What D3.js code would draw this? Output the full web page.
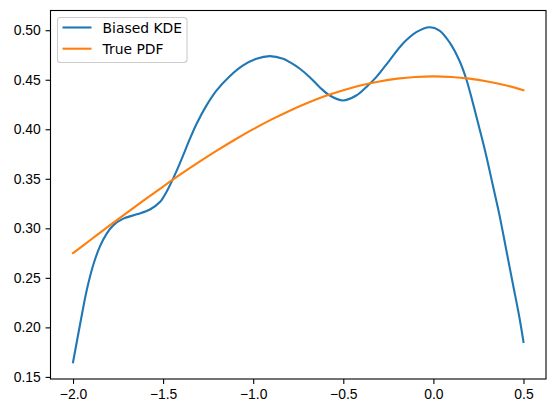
<!DOCTYPE html>
<html>
  <head>
    <meta charset="utf-8">
    <title>Biased KDE vs true PDF</title>
    <script src="https://d3js.org/d3.v7.min.js"></script>
    <style>
      body { margin: 0; background: #fff; }
      #chart { font-family: "DejaVu Sans", sans-serif; }
      .tick text { font-size: 13.9px; fill: #000; }
      .tick line { stroke: #000; stroke-width: 1.1; }
      .plot { fill: none; stroke-width: 2.1; stroke-linecap: square; }
    </style>
  </head>
  <body>
    <svg id="chart" width="556" height="413"></svg>
    <script>
      // data
      var kdeX = [-2.0, -1.96, -1.924, -1.887, -1.85, -1.813, -1.777, -1.721, -1.647, -1.573,
                  -1.518, -1.472, -1.425, -1.389, -1.351, -1.314, -1.259, -1.203, -1.13, -1.056,
                  -0.982, -0.908, -0.834, -0.797, -0.741, -0.686, -0.631, -0.575, -0.502, -0.428,
                  -0.373, -0.317, -0.244, -0.17, -0.095, -0.021, 0.034, 0.089, 0.144, 0.182,
                  0.218, 0.256, 0.293, 0.33, 0.367, 0.404, 0.441, 0.478, 0.5];
      var kdeY = [0.1648, 0.2039, 0.2375, 0.2635, 0.282, 0.2947, 0.303, 0.3098, 0.3141, 0.319,
                  0.3265, 0.340, 0.358, 0.3736, 0.3905, 0.4056, 0.4241, 0.4392, 0.4535, 0.4644,
                  0.4712, 0.4738, 0.4712, 0.4677, 0.4611, 0.4526, 0.4425, 0.4341, 0.4291, 0.4341,
                  0.4425, 0.4526, 0.4694, 0.4863, 0.498, 0.503, 0.4997, 0.4879, 0.4694, 0.451,
                  0.4274, 0.4006, 0.3736, 0.3434, 0.3131, 0.2787, 0.244, 0.2095, 0.1853];
      var pdfX = [-2.0, -1.9, -1.8, -1.7, -1.6, -1.5, -1.4, -1.3, -1.2, -1.1, -1.0, -0.9, -0.8,
                  -0.7, -0.6, -0.5, -0.4, -0.3, -0.2, -0.1, 0.0, 0.1, 0.2, 0.3, 0.4, 0.5];
      var pdfY = [0.275, 0.2887, 0.3024, 0.3159, 0.3292, 0.3422, 0.3549, 0.3671, 0.3787, 0.3897,
                  0.4001, 0.4097, 0.4185, 0.4265, 0.4335, 0.4394, 0.4444, 0.4483, 0.4511, 0.4528,
                  0.4534, 0.4528, 0.4511, 0.4483, 0.4444, 0.4394];
      var xTicks = [-2.0, -1.5, -1.0, -0.5, 0.0, 0.5];
      var yTicks = [0.15, 0.20, 0.25, 0.30, 0.35, 0.40, 0.45, 0.50];
      var seriesNames = ["Biased KDE", "True PDF"];
      var seriesColors = ["#1f77b4", "#ff7f0e"];

      var chart = d3.select("#chart");
      var box = { left: 50.5, right: 546, top: 10.5, bottom: 379 };

      // matplotlib style 5% margins
      var xExt = d3.extent(kdeX.concat(pdfX));
      var yExt = d3.extent(kdeY.concat(pdfY));
      var xPad = (xExt[1] - xExt[0]) * 0.05;
      var yPad = (yExt[1] - yExt[0]) * 0.05;
      var x = d3.scaleLinear()
        .domain([xExt[0] - xPad, xExt[1] + xPad])
        .range([box.left, box.right]);
      var y = d3.scaleLinear()
        .domain([yExt[0] - yPad, yExt[1] + yPad])
        .range([box.bottom, box.top]);

      var xAxis = d3.axisBottom(x)
        .tickValues(xTicks)
        .tickFormat(d3.format(".1f"))
        .tickSizeInner(4.9)
        .tickSizeOuter(0)
        .tickPadding(4.9);
      var yAxis = d3.axisLeft(y)
        .tickValues(yTicks)
        .tickFormat(d3.format(".2f"))
        .tickSizeInner(4.9)
        .tickSizeOuter(0)
        .tickPadding(4.9);

      chart.append("g")
        .attr("transform", "translate(0," + box.bottom + ")")
        .call(xAxis);
      chart.append("g")
        .attr("transform", "translate(" + box.left + ",0)")
        .call(yAxis);
      chart.selectAll(".domain").remove();
      chart.selectAll(".tick text").attr("font-family", null).attr("font-size", null);

      var line = d3.line()
        .x(function(d) { return x(d[0]); })
        .y(function(d) { return y(d[1]); })
        .curve(d3.curveCatmullRom.alpha(0.5));

      var series = [d3.zip(kdeX, kdeY), d3.zip(pdfX, pdfY)];
      chart.append("g").selectAll("path")
        .data(series)
        .join("path")
          .attr("class", "plot")
          .attr("stroke", function(d, i) { return seriesColors[i]; })
          .attr("d", line);

      // axes frame
      chart.append("rect")
        .attr("x", box.left)
        .attr("y", box.top)
        .attr("width", box.right - box.left)
        .attr("height", box.bottom - box.top)
        .attr("fill", "none")
        .attr("stroke", "#000")
        .attr("stroke-width", 1.1);

      // legend
      var legend = chart.append("g");
      legend.append("rect")
        .attr("x", 57.5)
        .attr("y", 17.5)
        .attr("width", 129.5)
        .attr("height", 45)
        .attr("rx", 3)
        .attr("fill", "#fff")
        .attr("fill-opacity", 0.8)
        .attr("stroke", "#cccccc")
        .attr("stroke-width", 1.1);
      var items = legend.selectAll("g.item")
        .data(seriesNames)
        .join("g")
          .attr("class", "item")
          .attr("transform", function(d, i) { return "translate(0," + (27.5 + i * 21.2) + ")"; });
      items.append("line")
        .attr("x1", 62.5)
        .attr("x2", 91.5)
        .attr("stroke", function(d, i) { return seriesColors[i]; })
        .attr("stroke-width", 2.1);
      items.append("text")
        .attr("x", 102.5)
        .attr("dy", "0.36em")
        .attr("font-size", "13.9px")
        .attr("fill", "#000")
        .text(function(d) { return d; });
    </script>
  </body>
</html>
